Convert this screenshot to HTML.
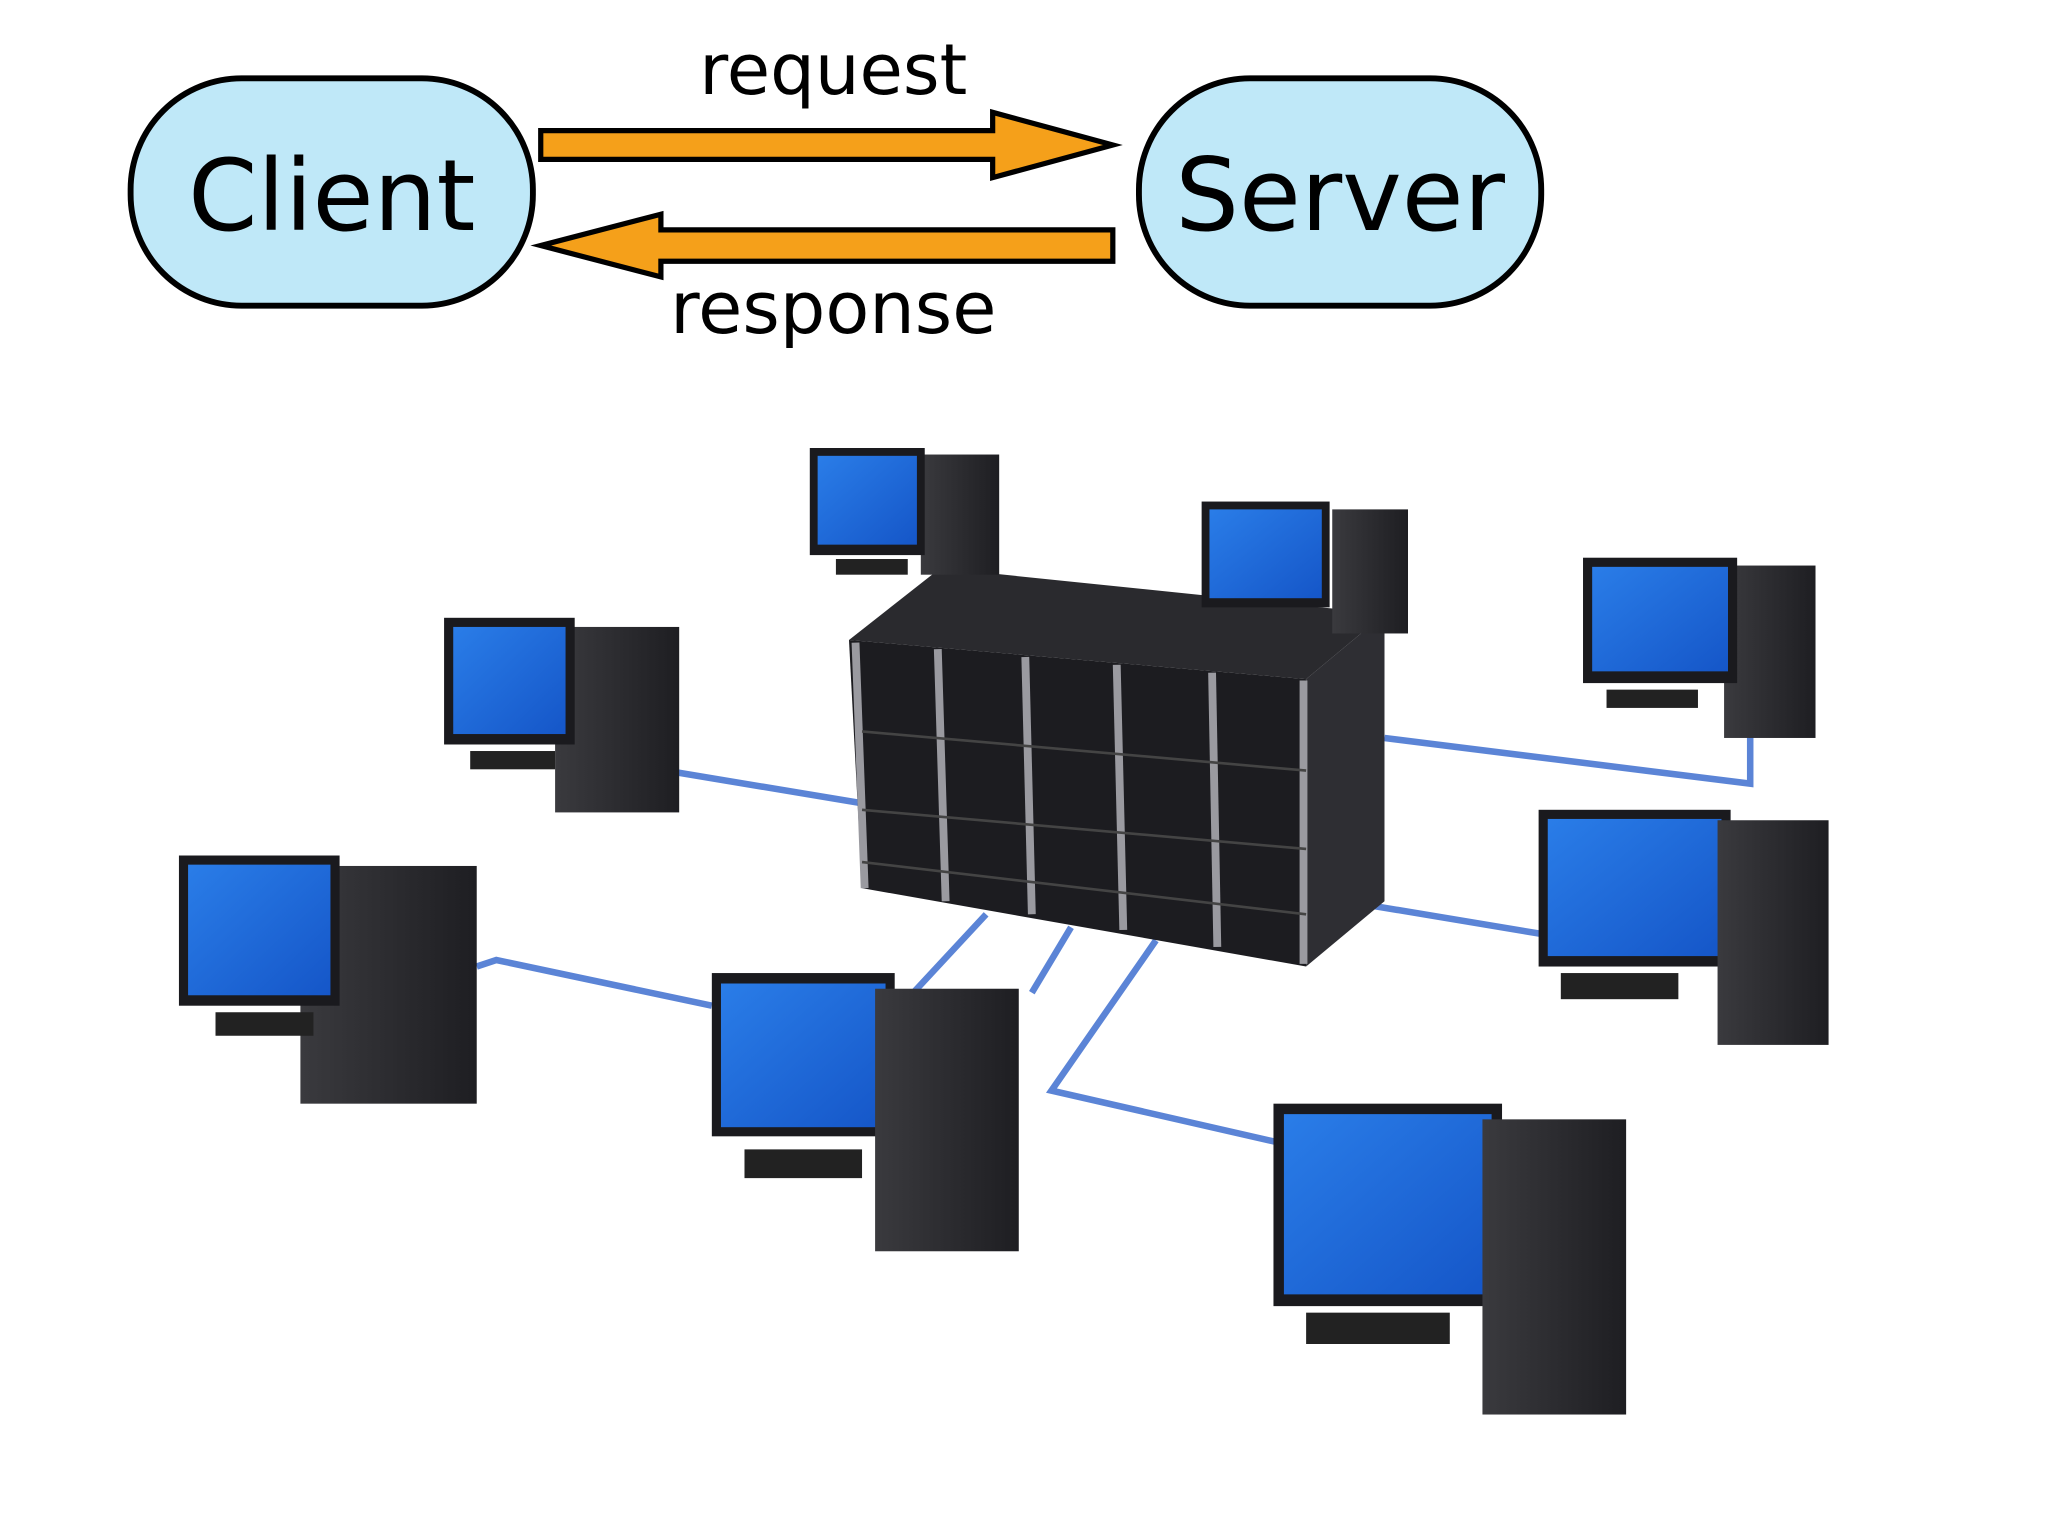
<!DOCTYPE html>
<html><head><meta charset="utf-8"><style>
html,body{margin:0;padding:0;background:#fff;}
svg{display:block;}
text{font-family:"DejaVu Sans","Liberation Sans",sans-serif;}
</style></head><body>
<svg width="2048" height="1536" viewBox="0 0 1568 1176" preserveAspectRatio="none" xmlns="http://www.w3.org/2000/svg">
<defs>
<linearGradient id="scr" x1="0" y1="0" x2="1" y2="1"><stop offset="0" stop-color="#2a7de8"/><stop offset="1" stop-color="#1556c8"/></linearGradient>
<linearGradient id="tw" x1="0" y1="0" x2="1" y2="0"><stop offset="0" stop-color="#3a3a3e"/><stop offset="1" stop-color="#1e1e22"/></linearGradient>
</defs>
<rect width="1568" height="1176" fill="#fff"/>
<rect x="100" y="60" width="308" height="174" rx="85" fill="#bfe8f8" stroke="#000" stroke-width="4.5"/>
<text x="254" y="176" font-size="76" text-anchor="middle" fill="#000">Client</text>
<rect x="872" y="60" width="308" height="174" rx="85" fill="#bfe8f8" stroke="#000" stroke-width="4.5"/>
<text x="1026" y="176" font-size="77" text-anchor="middle" fill="#000">Server</text>
<polygon points="414,100 760,100 760,86 852,111 760,136 760,122 414,122" fill="#f5a01a" stroke="#000" stroke-width="4"/>
<polygon points="852,176 506,176 506,164 414,188 506,212 506,200 852,200" fill="#f5a01a" stroke="#000" stroke-width="4"/>
<text x="638" y="72" font-size="54" text-anchor="middle" fill="#000">request</text>
<text x="638" y="255" font-size="55" text-anchor="middle" fill="#000">response</text>
<g stroke="#5b84d6" stroke-width="5" fill="none">
<polyline points="510,590 660,615"/>
<polyline points="1060,565 1340,600 1340,560"/>
<polyline points="1030,690 1180,715"/>
<polyline points="365,740 380,735 545,770"/>
<polyline points="755,700 690,770"/>
<polyline points="820,710 790,760"/>
<polyline points="885,720 805,835 980,875"/>
</g>
<polygon points="650,490 720,435 1060,470 1000,520" fill="#2a2a2e"/>
<polygon points="650,490 1000,520 1000,740 660,680" fill="#1c1c20"/>
<polygon points="1000,520 1060,470 1060,690 1000,740" fill="#2e2e33"/>
<g stroke="#9a9aa0" stroke-width="6">
<line x1="655" y1="492" x2="662" y2="680"/>
<line x1="718" y1="497" x2="724" y2="690"/>
<line x1="785" y1="503" x2="790" y2="700"/>
<line x1="855" y1="509" x2="860" y2="712"/>
<line x1="928" y1="515" x2="932" y2="725"/>
<line x1="998" y1="521" x2="998" y2="738"/>
</g>
<g stroke="#444" stroke-width="2">
<line x1="660" y1="560" x2="1000" y2="590"/>
<line x1="660" y1="620" x2="1000" y2="650"/>
<line x1="660" y1="660" x2="1000" y2="700"/>
</g>
<g>
<rect x="705" y="348" width="60" height="92" fill="url(#tw)"/>
<rect x="620" y="343" width="88" height="82" fill="#1a1a1e"/><rect x="626" y="349" width="76" height="68" fill="url(#scr)"/>
<rect x="640" y="428" width="55" height="12" fill="#222"/>
<rect x="1020" y="390" width="58" height="95" fill="url(#tw)"/>
<rect x="920" y="384" width="98" height="81" fill="#1a1a1e"/><rect x="926" y="390" width="86" height="68" fill="url(#scr)"/>
<rect x="425" y="480" width="95" height="142" fill="url(#tw)"/>
<rect x="340" y="473" width="100" height="97" fill="#1a1a1e"/><rect x="347" y="480" width="86" height="82" fill="url(#scr)"/>
<rect x="360" y="575" width="65" height="14" fill="#222"/>
<rect x="1320" y="433" width="70" height="132" fill="url(#tw)"/>
<rect x="1212" y="427" width="118" height="96" fill="#1a1a1e"/><rect x="1219" y="434" width="104" height="80" fill="url(#scr)"/>
<rect x="1230" y="528" width="70" height="14" fill="#222"/>
<rect x="230" y="663" width="135" height="182" fill="url(#tw)"/>
<rect x="137" y="655" width="123" height="115" fill="#1a1a1e"/><rect x="144" y="662" width="109" height="100" fill="url(#scr)"/>
<rect x="165" y="775" width="75" height="18" fill="#222"/>
<rect x="545" y="745" width="140" height="125" fill="#1a1a1e"/><rect x="552" y="753" width="126" height="110" fill="url(#scr)"/>
<rect x="570" y="880" width="90" height="22" fill="#222"/>
<rect x="670" y="757" width="110" height="201" fill="url(#tw)"/>
<rect x="1178" y="620" width="147" height="120" fill="#1a1a1e"/><rect x="1185" y="627" width="133" height="105" fill="url(#scr)"/>
<rect x="1195" y="745" width="90" height="20" fill="#222"/>
<rect x="1315" y="628" width="85" height="172" fill="url(#tw)"/>
<rect x="975" y="845" width="175" height="155" fill="#1a1a1e"/><rect x="983" y="853" width="159" height="138" fill="url(#scr)"/>
<rect x="1000" y="1005" width="110" height="24" fill="#222"/>
<rect x="1135" y="857" width="110" height="226" fill="url(#tw)"/>
</g>
</svg>
</body></html>
